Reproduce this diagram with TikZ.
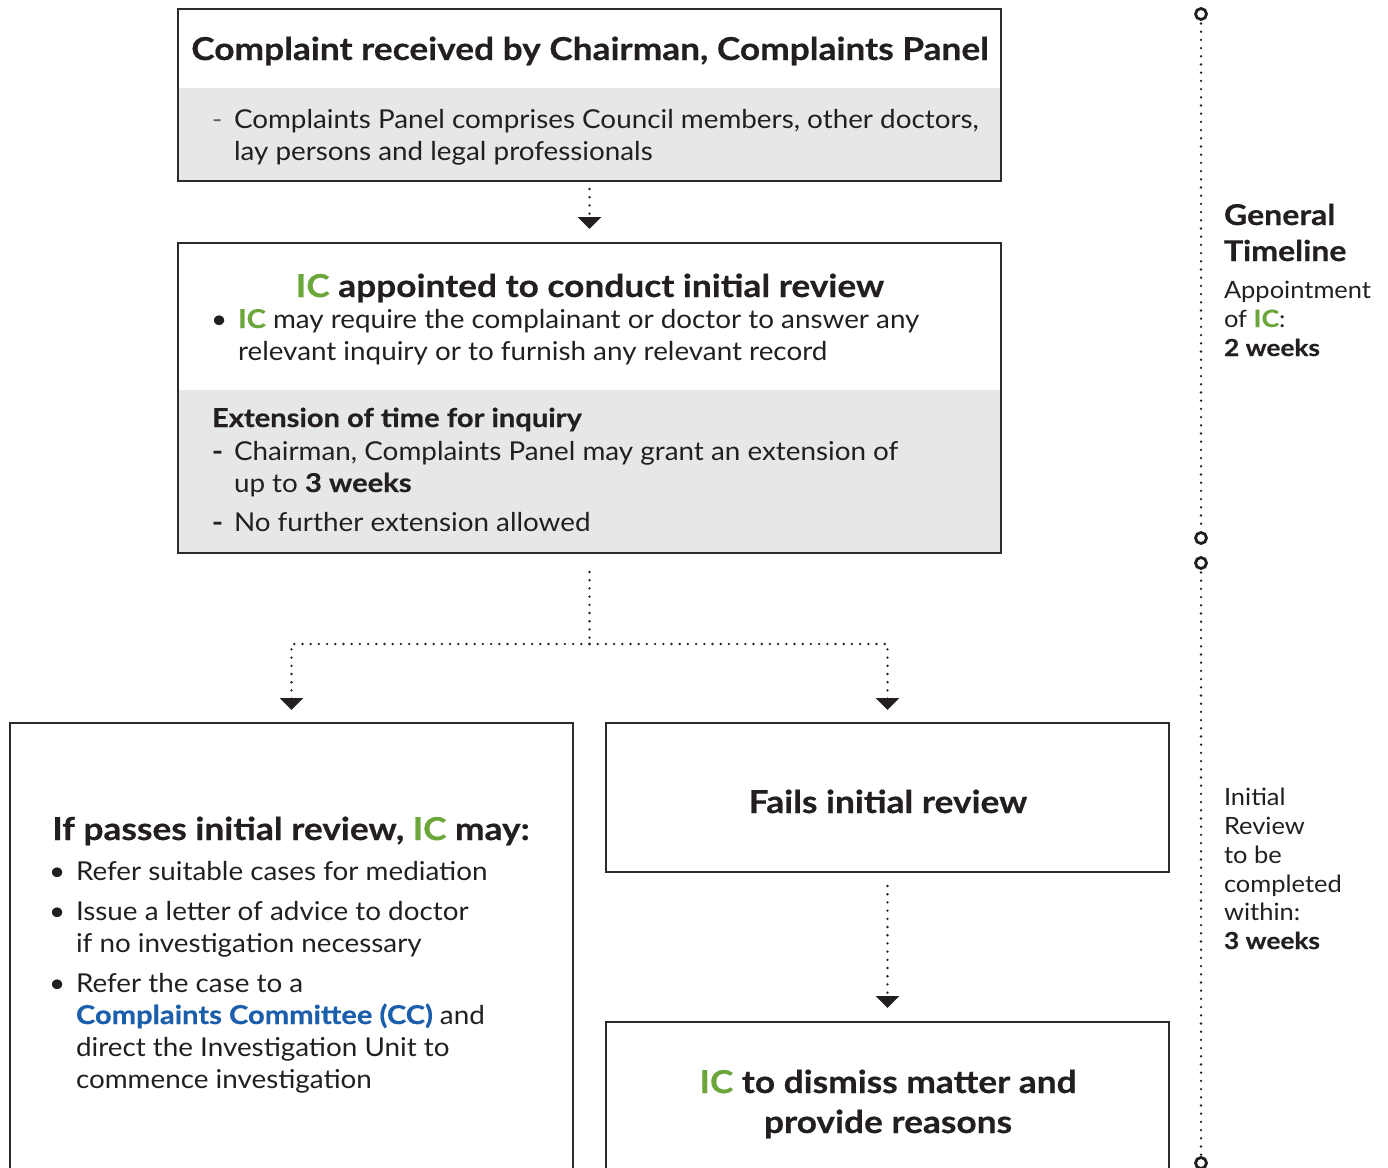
\documentclass[tikz,border=0pt]{standalone}
\usepackage{fontspec}
\setmainfont{Lato}[FakeStretch=1.07, BoldFeatures={FakeStretch=1.12,FakeBold=0.5}]
\usetikzlibrary{arrows.meta}
\definecolor{icgreen}{HTML}{6AA63A}
\definecolor{ccblue}{HTML}{1B5EAB}
\definecolor{panelgray}{HTML}{E6E7E8}
\definecolor{ink}{HTML}{231F20}
\definecolor{boxline}{HTML}{2B2B2B}
\newcommand\icm{\textcolor{icgreen}{\textbf{IC}}}
\newcommand\fttl{\fontsize{31.5}{36}\selectfont\bfseries}
\newcommand\fbody{\fontsize{26}{32}\selectfont}
\newcommand\ftl{\fontsize{23.8}{28}\selectfont}
\newcommand\ftlb{\fontsize{23.4}{28}\selectfont\bfseries}
\begin{document}
\begin{tikzpicture}[x=1pt,y=-1pt,
  every node/.style={inner sep=0pt,outer sep=0pt,text=ink},
  boxst/.style={draw=boxline,line width=2.5pt,rectangle,anchor=north west},
  dotl/.style={draw=ink,line width=2.6pt,line cap=round,dash pattern=on 0pt off 8.2pt},
  arr/.style={dotl,-{Triangle[width=23pt,length=12pt]}},
  tcirc/.style={circle,draw=ink,line width=2.8pt,minimum size=11pt},
  lt/.style={anchor=base west},
  ct/.style={anchor=base}]
\useasboundingbox (0,0) rectangle (1388,1167);
\clip (0,0) rectangle (1388,1167);
% gray panels
\fill[panelgray] (178,88) rectangle (1001,181);
\fill[panelgray] (178,390) rectangle (1001,553);
% boxes
\node[boxst,minimum width=823pt,minimum height=172pt] (b1) at (178,9) {};
\node[boxst,minimum width=823pt,minimum height=310pt] (b2) at (178,243) {};
\node[boxst,minimum width=563pt,minimum height=470pt] (b3) at (10,723) {};
\node[boxst,minimum width=563pt,minimum height=149pt] (b4) at (606,723) {};
\node[boxst,minimum width=563pt,minimum height=170pt] (b5) at (606,1022) {};
% box 1 text
\node[ct] (t1) at (590,60) {\fttl Complaint received by Chairman, Complaints Panel};
\node[lt] (d1) at (212,128) {\fbody\textcolor{ink!70}{-}};
\node[lt] (t1a) at (234,128) {\fbody Complaints Panel comprises Council members, other doctors,};
\node[lt] (t1b) at (234,160) {\fbody lay persons and legal professionals};
% box 2 text
\node[ct] (t2) at (590,297) {\fttl \icm{} appointed to conduct initial review};
\node[lt] (bu2) at (211,328) {\fbody •};
\node[lt] (t2a) at (238,328) {\fbody \icm{} may require the complainant or doctor to answer any};
\node[lt] (t2b) at (238,360) {\fbody relevant inquiry or to furnish any relevant record};
\node[lt] (t2c) at (212,427) {\fbody\bfseries Extension of time for inquiry};
\node[lt] (d2a) at (212,460) {\fbody\bfseries -};
\node[lt] (t2d) at (234,460) {\fbody Chairman, Complaints Panel may grant an extension of};
\node[lt] (t2e) at (234,492) {\fbody up to \textbf{3 weeks}};
\node[lt] (d2b) at (212,531) {\fbody\bfseries -};
\node[lt] (t2f) at (234,531) {\fbody No further extension allowed};
% box 3 text
\node[ct] (t3) at (291,840) {\fttl If passes initial review, \icm{} may:};
\node[lt] (bu3a) at (49,880) {\fbody •};
\node[lt] (t3a) at (76,880) {\fbody Refer suitable cases for mediation};
\node[lt] (bu3b) at (49,920) {\fbody •};
\node[lt] (t3b) at (76,920) {\fbody Issue a letter of advice to doctor};
\node[lt] (t3c) at (76,952) {\fbody if no investigation necessary};
\node[lt] (bu3c) at (49,992) {\fbody •};
\node[lt] (t3d) at (76,992) {\fbody Refer the case to a};
\node[lt] (t3e) at (76,1024) {\fbody \textcolor{ccblue}{\textbf{Complaints Committee (CC)}} and};
\node[lt] (t3f) at (76,1056) {\fbody direct the Investigation Unit to};
\node[lt] (t3g) at (76,1088) {\fbody commence investigation};
% box 4, 5 text
\node[ct] (t4) at (888,813) {\fttl Fails initial review};
\node[ct] (t5a) at (888,1093) {\fttl \icm{} to dismiss matter and};
\node[ct] (t5b) at (888,1133) {\fttl provide reasons};
% connectors
\coordinate (j) at (589.5,644);
\draw[arr] ([yshift=-8pt]b1.south) -- ([yshift=14pt]b2.north);
\draw[dotl] ([yshift=-19pt]b2.south) -- (j);
\draw[arr] (j) -| ([yshift=13pt]b3.north);
\draw[arr] (j) -| ([yshift=13pt]b4.north);
\draw[arr] ([yshift=-14pt]b4.south) -- ([yshift=14pt]b5.north);
% timeline
\node[tcirc] (c1) at (1201,14) {};
\node[tcirc] (c2) at (1201,538) {};
\node[tcirc] (c3) at (1201,563) {};
\node[tcirc] (c4) at (1201,1163) {};
\draw[dotl] ([yshift=-4pt]c1.south) -- ([yshift=2pt]c2.north);
\draw[dotl] ([yshift=-4pt]c3.south) -- ([yshift=2pt]c4.north);
\node[lt] (g1) at (1224,225) {\fontsize{28.6}{34}\selectfont\bfseries General};
\node[lt] (g2) at (1224,261) {\fontsize{28.6}{34}\selectfont\bfseries Timeline};
\node[lt] (g3) at (1224,298) {\ftl Appointment};
\node[lt] (g4) at (1224,327) {\ftl of \icm:};
\node[lt] (g5) at (1224,356) {\ftlb 2 weeks};
\node[lt] (h1) at (1224,805) {\ftl Initial};
\node[lt] (h2) at (1224,834) {\ftl Review};
\node[lt] (h3) at (1224,863) {\ftl to be};
\node[lt] (h4) at (1224,892) {\ftl completed};
\node[lt] (h5) at (1224,920) {\ftl within:};
\node[lt] (h6) at (1224,949) {\ftlb 3 weeks};
\end{tikzpicture}
\end{document}
